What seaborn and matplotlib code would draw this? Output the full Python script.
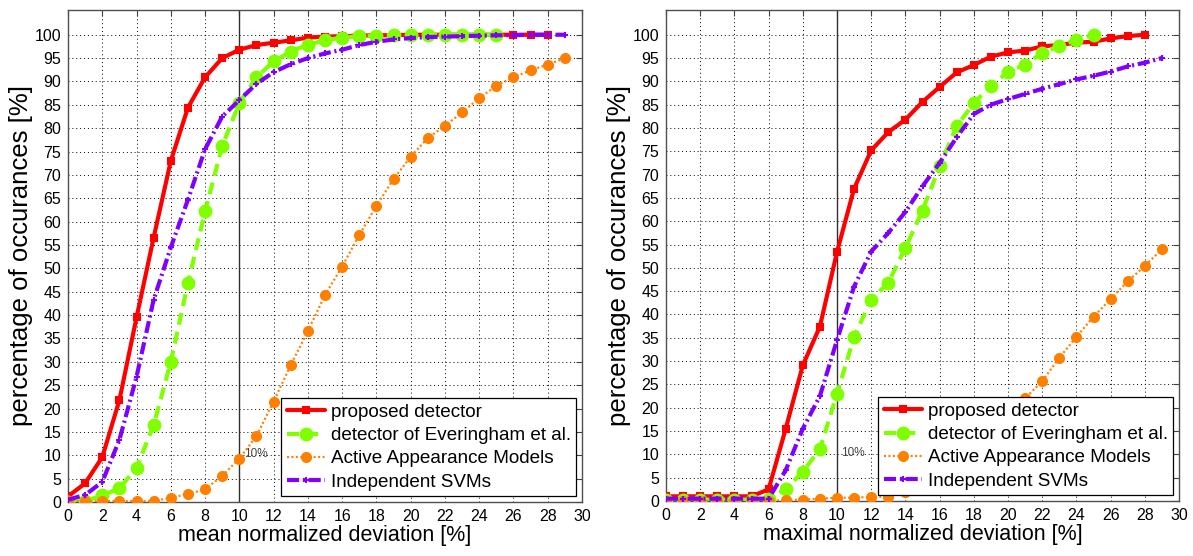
import numpy as np
import pandas as pd
import seaborn as sns
import matplotlib.pyplot as plt

sns.set_style("white")
plt.rcParams['font.family'] = ['Liberation Sans', 'DejaVu Sans']
plt.rcParams.update({"text.color": "black", "axes.labelcolor": "black",
                     "xtick.color": "black", "ytick.color": "black"})

# series names
names = ["proposed detector", "detector of Everingham et al.",
         "Active Appearance Models", "Independent SVMs"]

# left panel: mean normalized deviation
mean_proposed = [1.2, 4.0, 9.6, 21.8, 39.5, 56.6, 73.0, 84.4, 90.9, 95.0, 96.8,
                 97.8, 98.3, 98.8, 99.4, 99.6, 99.7, 99.8, 99.9, 99.9, 100, 100,
                 100, 100, 100, 100, 100, 100, 100]
mean_everingham = [0.0, 0.2, 1.4, 2.9, 7.3, 16.5, 30.0, 46.8, 62.2, 76.2, 85.4,
                   90.9, 94.3, 96.4, 97.9, 98.8, 99.4, 99.7, 99.8, 99.9, 100,
                   100, 100, 100, 100, 100]
mean_aam = [0.2, 0.2, 0.2, 0.2, 0.2, 0.2, 0.9, 1.7, 2.7, 5.6, 9.3, 14.1, 21.5,
            29.3, 36.6, 44.3, 50.4, 57.1, 63.4, 69.1, 73.9, 77.9, 80.5, 83.4,
            86.4, 89.1, 90.9, 92.4, 93.6, 95.0]
mean_svm = [0.5, 1.5, 4.3, 13.3, 26.8, 43.3, 54.5, 64.7, 75.5, 82.5, 86.0, 89.5,
            92.0, 93.7, 95.0, 96.0, 96.8, 97.8, 98.5, 99.0, 99.3, 99.5, 99.6,
            99.7, 99.8, 99.9, 99.9, 100, 100, 100]

# right panel: maximal normalized deviation
max_proposed = [1.0, 1.0, 1.0, 1.0, 1.0, 1.0, 2.5, 15.5, 29.1, 37.4, 53.4, 67.0,
                75.2, 79.1, 81.8, 85.6, 88.8, 91.9, 93.5, 95.3, 96.2, 96.6,
                97.5, 97.8, 98.3, 98.5, 99.2, 99.7, 100.0]
max_everingham = [0.3, 0.3, 0.3, 0.3, 0.3, 0.3, 0.5, 2.5, 6.3, 11.1, 23.0, 35.2,
                  43.2, 46.8, 54.3, 62.3, 71.8, 80.4, 85.3, 89.1, 92.0, 93.6,
                  96.1, 97.6, 98.9, 100.0]
max_aam = [0.0, 0.0, 0.0, 0.0, 0.0, 0.0, 0.0, 0.2, 0.3, 0.5, 0.7, 0.7, 0.9, 0.9,
           2.0, 3.5, 5.5, 8.0, 11.0, 14.5, 18.0, 22.0, 25.7, 30.7, 35.2, 39.5,
           43.3, 47.1, 50.4, 54.0]
max_svm = [0.5, 0.5, 0.5, 0.5, 0.5, 0.5, 0.5, 6.6, 15.5, 22.5, 34.5, 46.0, 53.5,
           57.5, 62.0, 67.5, 72.5, 78.0, 83.0, 85.0, 86.2, 87.3, 88.4, 89.4,
           90.4, 91.2, 92.1, 93.2, 94.0, 95.0]

xlabels = ["mean normalized deviation [%]", "maximal normalized deviation [%]"]
ylabel = "percentage of occurances [%]"
xticks = list(range(0, 31, 2))
yticks = list(range(0, 101, 5))

styles = [
    dict(color="#ff0000", linestyle="-", lw=3.0, marker="s", ms=4.5),
    dict(color="#80ff00", dashes=(2.9, 1.7), lw=3.0, marker="o", ms=8.5),
    dict(color="#ff8000", dashes=(0.9, 1.1), lw=1.6, marker="o", ms=6.5),
    dict(color="#8000ff", dashes=(2.9, 0.9, 0.5, 0.9), lw=3.0, marker="+", ms=4),
]

fig = plt.figure(figsize=(11.93, 5.56), dpi=100)
positions = [[68 / 1193, 54 / 556, 514 / 1193, 492 / 556],
             [666 / 1193, 55 / 556, 513 / 1193, 491 / 556]]
panels = [[mean_proposed, mean_everingham, mean_aam, mean_svm],
          [max_proposed, max_everingham, max_aam, max_svm]]

for pos, series, xl in zip(positions, panels, xlabels):
    ax = fig.add_axes(pos)
    ax.axvline(10, color="#303030", lw=1.0, zorder=1.5)
    ax.text(10.25, 10.3, "10%", fontsize=8.5, color="#444444", va="center")
    for name, vals, st in zip(names, series, styles):
        df = pd.DataFrame({"x": np.arange(len(vals)), "y": vals})
        sns.lineplot(data=df, x="x", y="y", ax=ax, label=name,
                     mec=st["color"], mfc=st["color"], mew=1.5, zorder=3, **st)
    ax.set_xlim(0, 30)
    ax.set_ylim(0, 105.3)
    ax.set_xticks(xticks)
    ax.set_yticks(yticks)
    ax.grid(True, linestyle=(0, (1, 3)), color="black", lw=0.7)
    ax.tick_params(direction="in", length=4, top=True, right=True,
                   labelsize=11.5, pad=5, color="#404040")
    for sp in ax.spines.values():
        sp.set_color("#505050")
        sp.set_linewidth(1.0)
    ax.set_xlabel(xl, fontsize=15.5, labelpad=1)
    ax.set_ylabel(ylabel, fontsize=18.5, labelpad=1)
    leg = ax.legend(loc="lower right", fontsize=13.6, fancybox=False,
                    framealpha=1, edgecolor="black", handlelength=2.0,
                    handletextpad=0.3, labelspacing=0.32, borderpad=0.3,
                    borderaxespad=0.3)
    leg.get_frame().set_linewidth(0.9)

fig.savefig("out.png", dpi=100)
